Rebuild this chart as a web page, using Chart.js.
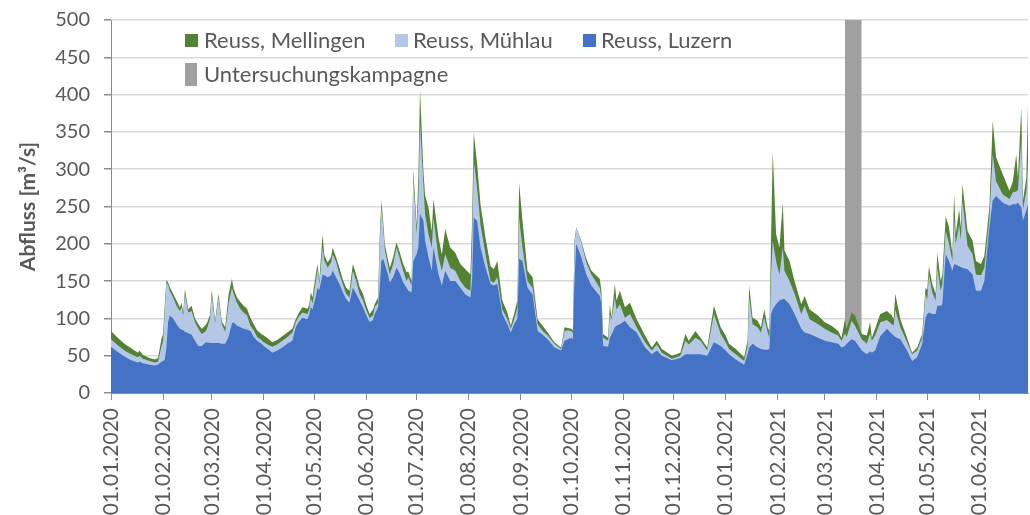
<!DOCTYPE html>
<html><head><meta charset="utf-8">
<script src="https://cdn.jsdelivr.net/npm/chart.js@4.4.1/dist/chart.umd.min.js"></script>
<style>html,body{margin:0;padding:0;background:#fff;}</style>
</head><body>
<canvas id="c" width="1030" height="515"></canvas>
<script>
// Day index counted from 01.01.2020
const days = [0,4,8,12,16,17,19,23,26,28,30,31,32,33,34,35,37,39,41,42,43,44,46,48,50,52,54,56,57,59,60,62,64,66,68,70,72,73,75,77,79,81,83,85,87,89,91,94,96,99,102,105,108,110,112,114,117,118,119,120,122,123,124,126,127,129,131,132,134,136,138,140,142,144,146,148,150,152,154,156,157,159,160,161,162,163,165,166,168,170,172,174,176,177,179,180,182,183,184,186,187,189,191,192,195,197,199,202,205,208,211,214,215,216,218,220,223,226,228,230,233,236,238,240,242,243,245,248,251,254,257,260,264,268,270,272,274,275,276,277,280,283,286,291,292,293,296,297,298,300,301,303,306,309,313,318,322,325,328,334,339,342,344,348,351,355,359,363,366,368,372,377,379,380,382,385,387,389,391,392,393,394,396,398,400,401,404,407,411,413,416,421,425,429,433,435,437,438,441,443,447,450,452,453,455,458,462,465,466,467,470,474,477,480,483,485,486,487,489,491,492,494,495,497,499,501,502,503,505,506,507,510,513,515,518,520,523,525,527,531,535,537,539,540,542,543,545,546];
const luzern = [62,55,49,44,41,42,40,38,37,38,42,43,45,60,95,104,100,92,86,85,84,82,80,78,70,63,63,67,68,67,67,67,67,66,66,75,93,95,90,88,86,85,83,75,70,67,63,58,54,57,61,66,70,88,96,101,99,105,115,112,130,141,138,159,158,155,158,164,155,146,135,126,121,141,133,124,115,104,95,98,106,115,140,177,180,173,158,148,155,168,160,148,141,137,135,177,186,195,240,231,205,182,164,195,159,144,164,150,150,141,132,128,150,235,231,195,168,146,144,146,106,92,81,92,100,180,177,141,132,83,78,72,61,57,70,72,74,72,150,200,182,159,144,130,120,63,62,74,78,88,90,92,97,88,81,61,52,57,50,44,47,52,52,52,52,50,68,63,57,52,45,38,52,61,66,61,59,58,58,59,106,112,119,124,126,126,119,106,86,81,79,74,70,68,66,61,63,66,72,70,57,52,56,54,57,76,86,79,77,75,72,57,43,48,66,101,106,108,106,106,117,117,119,186,177,164,173,172,170,169,168,166,159,137,137,150,222,258,264,255,251,253,253,255,249,231,245,253];
const muehlau = [72,64,57,52,48,50,46,43,41,42,62,70,110,148,145,137,128,117,110,115,104,133,108,110,95,86,79,82,85,100,132,94,128,92,82,120,141,133,121,113,108,104,90,84,75,72,68,64,62,65,70,75,81,95,103,108,106,112,128,120,150,166,146,195,178,168,175,186,176,159,146,133,128,164,150,133,124,111,101,104,115,121,200,249,225,193,170,159,173,195,180,164,150,155,144,291,213,260,362,280,240,213,195,235,182,164,186,168,164,150,141,137,200,311,275,226,186,150,148,155,112,99,86,99,115,235,195,150,141,92,83,77,66,59,83,84,83,80,200,222,202,175,159,141,128,74,70,106,98,128,112,119,101,106,88,68,57,65,54,46,50,70,65,74,70,57,106,79,68,59,52,43,62,128,92,88,81,101,81,74,159,204,177,159,195,164,150,133,106,117,99,92,86,81,77,70,80,75,97,90,72,66,80,70,77,95,98,92,90,112,88,68,52,57,74,133,125,159,135,124,168,137,146,217,200,177,235,200,226,205,258,197,186,159,158,168,235,320,284,266,260,269,270,272,342,246,271,307];
const mellingen = [83,74,66,60,54,57,51,47,45,47,72,79,118,151,148,142,133,124,115,121,108,139,112,117,100,92,86,90,93,105,138,97,133,96,88,132,153,140,128,122,117,113,101,92,84,80,77,72,68,71,76,81,86,99,108,115,113,118,135,128,160,173,150,213,185,175,182,195,182,168,152,141,137,173,159,142,133,118,106,112,119,128,210,258,232,200,178,168,182,202,188,173,162,163,150,300,224,290,407,298,265,249,217,260,208,186,220,195,188,173,166,159,230,349,307,253,208,170,166,177,124,108,90,106,125,282,231,164,155,99,90,81,68,61,88,87,86,84,205,222,204,180,164,153,137,79,74,119,101,146,124,137,115,121,99,77,61,70,59,50,54,79,70,83,74,61,117,88,77,66,59,48,70,144,101,97,88,112,88,83,204,324,213,195,255,191,177,150,119,130,112,104,95,90,83,74,99,86,108,104,79,77,95,74,86,106,110,104,99,133,99,74,54,61,79,141,138,170,146,133,188,150,159,237,222,186,266,213,246,222,280,217,204,177,173,184,249,365,316,293,271,284,320,289,383,258,289,387];
// Untersuchungskampagne (13.03.2021 - 23.03.2021)
const campaignDays = [437, 447];
const campaignLevel = [500, 500];
// x-axis ticks (first of each month)
const tickDays = [0,31,60,91,121,152,182,213,244,274,305,335,366,397,425,456,486,517];
const tickLabels = ['01.01.2020','01.02.2020','01.03.2020','01.04.2020','01.05.2020','01.06.2020','01.07.2020','01.08.2020','01.09.2020','01.10.2020','01.11.2020','01.12.2020','01.01.2021','01.02.2021','01.03.2021','01.04.2021','01.05.2021','01.06.2021'];
const seriesNames = ['Reuss, Mellingen','Reuss, Mühlau','Reuss, Luzern','Untersuchungskampagne'];
const colors = ['#548235','#b4c7e7','#4472c4','#a0a0a0'];

const FONT = 'Lato, "Open Sans", sans-serif';
const TXT = '#595959';

const pts = arr => days.map((d, i) => ({x: d, y: arr[i]}));

function areaDs(label, data, color, order) {
  return {label, data, backgroundColor: color, borderColor: 'rgba(0,0,0,0)', borderWidth: 0,
          fill: 'origin', pointRadius: 0, tension: 0, order};
}

const legendPlugin = {
  id: 'customLegend',
  afterDraw(chart) {
    const ctx = chart.ctx;
    ctx.save();
    ctx.font = '22px ' + FONT;
    ctx.textBaseline = 'middle';
    ctx.textAlign = 'left';
    const items = [
      {i: 0, bx: 185, by: 34, bw: 13, bh: 13, tx: 204, ty: 41},
      {i: 1, bx: 395, by: 34, bw: 13, bh: 13, tx: 413, ty: 41},
      {i: 2, bx: 583, by: 34, bw: 13, bh: 13, tx: 601, ty: 41},
      {i: 3, bx: 185, by: 63, bw: 12, bh: 23, tx: 204, ty: 75}
    ];
    items.forEach(it => {
      ctx.fillStyle = colors[it.i];
      ctx.fillRect(it.bx, it.by, it.bw, it.bh);
      ctx.fillStyle = TXT;
      ctx.fillText(seriesNames[it.i], it.tx, it.ty);
    });
    ctx.restore();
  }
};

new Chart(document.getElementById('c'), {
  type: 'line',
  data: {
    datasets: [
      areaDs(seriesNames[0], pts(mellingen), colors[0], 2),
      areaDs(seriesNames[1], pts(muehlau), colors[1], 1),
      areaDs(seriesNames[2], pts(luzern), colors[2], 0),
      areaDs(seriesNames[3], campaignDays.map((d, i) => ({x: d, y: campaignLevel[i]})), colors[3], 3)
    ]
  },
  options: {
    responsive: false,
    animation: false,
    devicePixelRatio: 1,
    layout: {padding: {top: 20, right: 2, left: 0, bottom: 0}},
    plugins: {legend: {display: false}, tooltip: {enabled: false}},
    scales: {
      x: {
        type: 'linear', min: 0, max: 546,
        afterFit: s => { s.height = 122; s.paddingLeft = 0; s.paddingRight = 0; },
        afterBuildTicks: s => { s.ticks = tickDays.map(v => ({value: v})); },
        ticks: {autoSkip: false, minRotation: 90, maxRotation: 90, padding: 8, color: TXT,
                font: {family: FONT, size: 21}, callback: (v, i) => tickLabels[i]},
        grid: {drawOnChartArea: false, drawTicks: true, tickLength: 7, tickColor: '#8c8c8c'},
        border: {color: '#8c8c8c', width: 1}
      },
      y: {
        min: 0, max: 500,
        afterFit: s => { s.width = 111; s.paddingTop = 0; s.paddingBottom = 0; },
        ticks: {stepSize: 50, padding: 14, color: TXT, font: {family: FONT, size: 20}},
        grid: {color: '#d9d9d9', lineWidth: 1.5, tickLength: 7, tickColor: '#8c8c8c'},
        border: {color: '#8c8c8c', width: 1},
        title: {display: true, text: 'Abfluss [m³/s]', color: TXT,
                font: {family: FONT, size: 21, weight: 'bold'}, padding: {top: 16, bottom: 0}}
      }
    }
  },
  plugins: [legendPlugin]
});
</script>
</body></html>
